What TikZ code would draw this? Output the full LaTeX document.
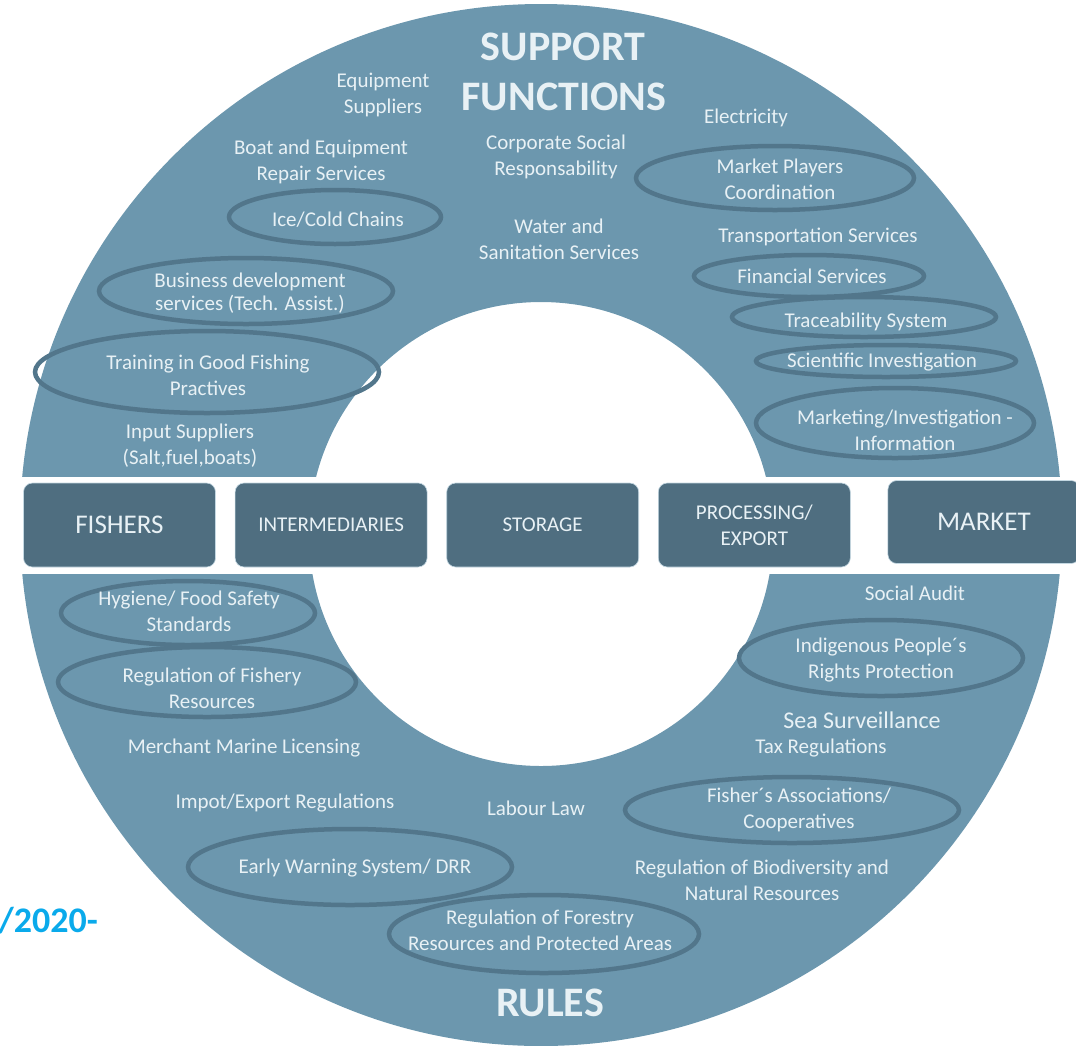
\documentclass[tikz,border=0pt]{standalone}
\usepackage{fontspec}
\setmainfont{Carlito}
\usepackage{tikz}
\usetikzlibrary{shapes.geometric, positioning}
\usepackage{xcolor}
\definecolor{ringblue}{RGB}{108,151,174}
\definecolor{ovalblue}{RGB}{82,118,139}
\definecolor{boxblue}{RGB}{79,110,128}
\definecolor{boxedge}{RGB}{196,216,226}
\definecolor{paletext}{RGB}{232,241,245}
\definecolor{yearcyan}{RGB}{10,170,235}

\begin{document}
\begin{tikzpicture}[
                x=1pt, y=-1pt,
                ringlabel/.style={text=paletext, align=center, inner sep=0pt, font=\fontsize{21}{26}\selectfont},
                ringtitle/.style={text=paletext, anchor=base, inner sep=0pt, font=\fontsize{42}{50}\selectfont\bfseries},
                ovalnode/.style={shape=ellipse, draw=ovalblue, line width=4.5pt, inner sep=0pt},
                chainbox/.style={shape=rectangle, rounded corners=9pt, fill=boxblue, draw=boxedge, line width=0.6pt,
                                 text=paletext, align=center, minimum width=192pt, minimum height=84pt,
                                 font=\fontsize{21}{26}\selectfont}
                ]
                \useasboundingbox (0,0) rectangle (1076,1045);

                %% Ring and middle band
                \fill[ringblue, even odd rule] (541,525) circle[radius=521pt] (541,534) circle[radius=232pt];
                \fill[white] (0,477) rectangle (1076,574);

                % Ovals round the highlighted items
                \foreach \cx/\cy/\rx/\ry/\name in {335/217/106/27/ice, 246/291/147/33/bds, 207/372/172/41/train,
                                                   775/178/139/32/mpc, 809/276/115/21/fin, 864/317/132/20/trace,
                                                   886/361/130/16/sci, 895/423/139/35/mkt, 188/613/127/32/hyg,
                                                   207/682/149/35/regfish, 350/867/162/38/ews, 544/934/155/39/forest,
                                                   881/658/142/38/indig, 792/810/167/33/fassoc} {
                    \node[ovalnode, minimum width=2*\rx pt, minimum height=2*\ry pt] (oval-\name) at (\cx,\cy) {};
                }

                %% Titles
                \node[ringtitle] (support) at (563,60) {SUPPORT};
                \node[ringtitle] (functions) at (564,110) {FUNCTIONS};
                \node[ringtitle] (rules) at (550,1016) {RULES};

                %% Support functions
                \node[ringlabel] (equip) at (383,95) {Equipment\\Suppliers};
                \node[ringlabel] (repair) at (321,162) {Boat and Equipment\\Repair Services};
                \node[ringlabel] (icecold) at (338,220) {Ice/Cold Chains};
                \node[ringlabel, font=\fontsize{21}{23}\selectfont] (bizdev) at (250,293) {Business development\\services (Tech. Assist.)};
                \node[ringlabel] (training) at (208,375) {Training in Good Fishing\\Practives};
                \node[ringlabel] (input) at (190,446) {Input Suppliers\\(Salt,fuel,boats)};
                \node[ringlabel] (csr) at (556,157) {Corporate Social\\Responsability};
                \node[ringlabel] (water) at (559,239) {Water and\\Sanitation Services};
                \node[ringlabel] (electricity) at (746,118) {Electricity};
                \node[ringlabel] (players) at (780,179) {Market Players\\Coordination};
                \node[ringlabel] (transport) at (818,237) {Transportation Services};
                \node[ringlabel] (financial) at (812,276) {Financial Services};
                \node[ringlabel] (traceability) at (866,322) {Traceability System};
                \node[ringlabel] (scientific) at (882,362) {Scientific Investigation};
                \node[ringlabel] (marketing) at (905,430) {Marketing/Investigation -\\Information};

                %% Value chain
                \node[chainbox, font=\fontsize{27}{30}\selectfont] (fishers) at (119.5,525) {FISHERS};
                \node[chainbox, right=19pt of fishers] (intermed) {INTERMEDIARIES};
                \node[chainbox, right=19pt of intermed] (storage) {STORAGE};
                \node[chainbox, right=19pt of storage] (processing) {PROCESSING/\\EXPORT};
                \node[chainbox, font=\fontsize{27}{30}\selectfont, minimum height=83pt, right=37pt of processing, yshift=3pt] (market) {MARKET};

                %% Rules
                \node[ringlabel] (socialaudit) at (915,593) {Social Audit};
                \node[ringlabel] (hygiene) at (189,611) {Hygiene/ Food Safety\\Standards};
                \node[ringlabel] (regfishery) at (212,688) {Regulation of Fishery\\Resources};
                \node[ringlabel] (merchant) at (244,748) {Merchant Marine Licensing};
                \node[ringlabel] (impexp) at (285,803) {Impot/Export Regulations};
                \node[ringlabel] (labour) at (536,808) {Labour Law};
                \node[ringlabel] (earlywarn) at (355,868) {Early Warning System/ DRR};
                \node[ringlabel] (forestry) at (540,930) {Regulation of Forestry\\Resources and Protected Areas};
                \node[ringlabel] (indigenous) at (881,660) {Indigenous People´s\\Rights Protection};
                \node[ringlabel, font=\fontsize{24}{28}\selectfont] (surveillance) at (862,720) {Sea Surveillance};
                \node[ringlabel] (tax) at (821,748) {Tax Regulations};
                \node[ringlabel] (fisherassoc) at (799,810) {Fisher´s Associations/\\Cooperatives};
                \node[ringlabel] (biodiv) at (762,880) {Regulation of Biodiversity and\\Natural Resources};

                % Year fragment at the left
                \node[anchor=east, inner sep=0pt, text=yearcyan, font=\fontsize{36}{40}\selectfont\bfseries] (year) at (98,921) {/2020-};
\end{tikzpicture}
\end{document}
